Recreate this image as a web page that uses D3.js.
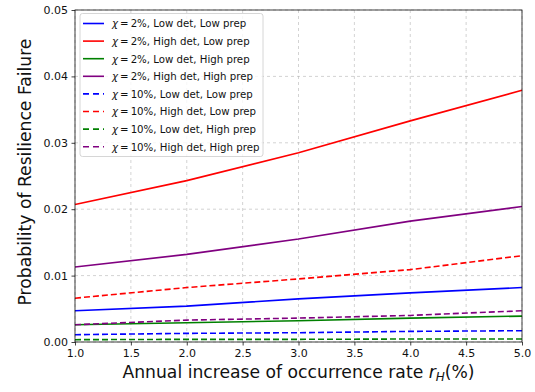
<!DOCTYPE html>
<html>
<head>
<meta charset="utf-8">
<script src="https://cdn.jsdelivr.net/npm/d3@7"></script>
<style>
  body { margin: 0; background: #fff; }
  text { font-family: "DejaVu Sans", sans-serif; fill: #111; }
</style>
</head>
<body>
<div id="chart"></div>
<script>
// Chart dimensions.
const W = 535, H = 392;
const margin = { top: 10, right: 13, bottom: 50, left: 75 };
const width = W - margin.left - margin.right;
const height = H - margin.top - margin.bottom;

// Data.
const rH = [1, 2, 3, 4, 5];
const xTicks = [1.0, 1.5, 2.0, 2.5, 3.0, 3.5, 4.0, 4.5, 5.0];
const yTicks = [0, 0.01, 0.02, 0.03, 0.04, 0.05];

const seriesNames = [
  "χ = 2%, Low det, Low prep",
  "χ = 2%, High det, Low prep",
  "χ = 2%, Low det, High prep",
  "χ = 2%, High det, High prep",
  "χ = 10%, Low det, Low prep",
  "χ = 10%, High det, Low prep",
  "χ = 10%, Low det, High prep",
  "χ = 10%, High det, High prep"
];
const seriesColors = ["blue", "red", "green", "purple", "blue", "red", "green", "purple"];
const seriesDashed = [false, false, false, false, true, true, true, true];

const lowLow2 = [0.0047, 0.0054, 0.0065, 0.0074, 0.0082];
const highLow2 = [0.0207, 0.0243, 0.0285, 0.0333, 0.0379];
const lowHigh2 = [0.0026, 0.0029, 0.0032, 0.0036, 0.0039];
const highHigh2 = [0.0113, 0.0132, 0.0155, 0.0182, 0.0204];
const lowLow10 = [0.0011, 0.0013, 0.0014, 0.0016, 0.0017];
const highLow10 = [0.0066, 0.0082, 0.0095, 0.0109, 0.0130];
const lowHigh10 = [0.00035, 0.0004, 0.0004, 0.00045, 0.00045];
const highHigh10 = [0.0026, 0.0033, 0.0036, 0.0040, 0.0047];
const seriesValues = [lowLow2, highLow2, lowHigh2, highHigh2, lowLow10, highLow10, lowHigh10, highHigh10];

const svg = d3.select("#chart").append("svg")
  .attr("width", W)
  .attr("height", H);

const g = svg.append("g")
  .attr("transform", `translate(${margin.left},${margin.top})`);

const x = d3.scaleLinear().domain([1, 5]).range([0, width]);
const y = d3.scaleLinear().domain([0, 0.05]).range([height, 0]);

// Grid lines.
g.append("g")
  .selectAll("line")
  .data(xTicks)
  .join("line")
  .attr("x1", d => x(d)).attr("x2", d => x(d))
  .attr("y1", 0).attr("y2", height)
  .attr("stroke", "#b0b0b0").attr("stroke-opacity", 0.7)
  .attr("stroke-dasharray", "3,3").attr("stroke-width", 0.8);

g.append("g")
  .selectAll("line")
  .data(yTicks)
  .join("line")
  .attr("x1", 0).attr("x2", width)
  .attr("y1", d => y(d)).attr("y2", d => y(d))
  .attr("stroke", "#b0b0b0").attr("stroke-opacity", 0.7)
  .attr("stroke-dasharray", "3,3").attr("stroke-width", 0.8);

// Lines.
const line = d3.line()
  .x((d, i) => x(rH[i]))
  .y(d => y(d));

g.append("g")
  .selectAll("path")
  .data(seriesValues)
  .join("path")
  .attr("d", d => line(d))
  .attr("fill", "none")
  .attr("stroke", (d, i) => seriesColors[i])
  .attr("stroke-width", 1.6)
  .attr("stroke-dasharray", (d, i) => seriesDashed[i] ? "6,3" : null);

// Axes.
const xAxis = g.append("g")
  .attr("transform", `translate(0,${height})`)
  .call(d3.axisBottom(x).tickValues(xTicks).tickFormat(d3.format(".1f")).tickSizeOuter(0).tickSize(3.5).tickPadding(3.5));

const yAxis = g.append("g")
  .call(d3.axisLeft(y).tickValues(yTicks).tickFormat(d3.format(".2f")).tickSizeOuter(0).tickSize(3.5).tickPadding(3.5));

[xAxis, yAxis].forEach(a => {
  a.selectAll("text").attr("font-size", 11).attr("fill", "#111")
    .attr("font-family", "DejaVu Sans, sans-serif");
  a.selectAll("line").attr("stroke", "#111").attr("stroke-width", 0.8);
  a.select(".domain").remove();
});

// Frame.
g.append("rect")
  .attr("width", width).attr("height", height)
  .attr("fill", "none").attr("stroke", "#111").attr("stroke-width", 0.8);

// Axis labels.
const xLabel = svg.append("text")
  .attr("x", margin.left + width / 2)
  .attr("y", 378)
  .attr("text-anchor", "middle")
  .attr("font-size", 17.2);
xLabel.append("tspan").text("Annual increase of occurrence rate ");
xLabel.append("tspan").attr("font-style", "italic").text("r");
xLabel.append("tspan").attr("font-style", "italic").attr("font-size", 12).attr("dy", 3).text("H");
xLabel.append("tspan").attr("dy", -3).text("(%)");

svg.append("text")
  .attr("transform", `translate(31,${margin.top + height / 2 - 4}) rotate(-90)`)
  .attr("text-anchor", "middle")
  .attr("font-size", 17.2)
  .text("Probability of Resilience Failure");

// Legend.
const legend = g.append("g").attr("transform", "translate(5,3.5)");
legend.append("rect")
  .attr("width", 183).attr("height", 143)
  .attr("rx", 2.5)
  .attr("fill", "#fff").attr("fill-opacity", 0.8)
  .attr("stroke", "#ccc").attr("stroke-width", 0.8);

const item = legend.selectAll(".item")
  .data(seriesNames)
  .join("g")
  .attr("class", "item")
  .attr("transform", (d, i) => `translate(0,${10 + i * 17.6})`);

item.append("line")
  .attr("x1", 3).attr("x2", 24)
  .attr("stroke", (d, i) => seriesColors[i])
  .attr("stroke-width", 1.6)
  .attr("stroke-dasharray", (d, i) => seriesDashed[i] ? "6,4" : null);

item.append("text")
  .attr("x", 32)
  .attr("y", 3.8)
  .attr("font-size", 10.2)
  .each(function (d) {
    const t = d3.select(this);
    t.append("tspan").attr("font-style", "italic").text("χ");
    t.append("tspan").text(d.slice(1).replace(" = ", "\u2009=\u2009"));
  });
</script>
</body>
</html>
